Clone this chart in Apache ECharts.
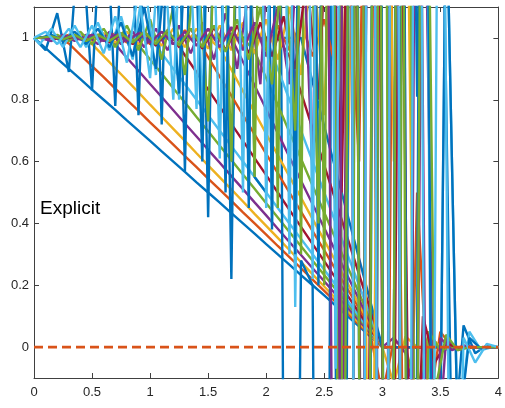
<!DOCTYPE html>
<html>
<head>
<meta charset="utf-8">
<script src="https://cdn.jsdelivr.net/npm/echarts@6/dist/echarts.min.js"></script>
<style>html,body{margin:0;padding:0;background:#fff}#c{width:505px;height:408px}</style>
</head>
<body>
<div id="c"></div>
<script>
// x grids
const xA = [0,0.1,0.2,0.3,0.4,0.5,0.6,0.7,0.8,0.9,1,1.1,1.2,1.3,1.4,1.5,1.6,1.7,1.8,1.9,2,2.1,2.2,2.3,2.4,2.5,2.6,2.7,2.8,2.9,3,3.1,3.2,3.3,3.4,3.5,3.6,3.7,3.8,3.9,4];
const xB = [0,0.05,0.15,0.25,0.35,0.45,0.55,0.65,0.75,0.85,0.95,1.05,1.15,1.25,1.35,1.45,1.55,1.65,1.75,1.85,1.95,2.05,2.15,2.25,2.35,2.45,2.55,2.65,2.75,2.85,2.95,3.05,3.15,3.25,3.35,3.45,3.55,3.65,3.75,3.85,3.95,4];
const xTicks = [0,0.5,1,1.5,2,2.5,3,3.5,4];
const yTicks = [0,0.2,0.4,0.6,0.8,1];
const labelText = "Explicit";

// smooth ramps (grid A)
const r0 = [1,0.967,0.933,0.9,0.867,0.833,0.8,0.767,0.733,0.7, 0.667,0.633,0.6,0.567,0.533,0.5,0.467,0.433,0.4,0.367, 0.333,0.3,0.267,0.233,0.2,0.167,0.133,0.1,0.067,0.033, 0,0,0,0,0,0,0,0,0,0,0];
const r1 = [1,1,1,0.982,0.945,0.909,0.873,0.836,0.8,0.764, 0.727,0.691,0.655,0.618,0.582,0.545,0.509,0.473,0.436,0.4, 0.364,0.327,0.291,0.255,0.218,0.182,0.145,0.109,0.073,0.036, -0.15,0.02,0,0,0,0,0,0,0,0,0];
const r2 = [1,1,1,1,1,0.98,0.941,0.902,0.863,0.824, 0.784,0.745,0.706,0.667,0.627,0.588,0.549,0.51,0.471,0.431, 0.392,0.353,0.314,0.275,0.235,0.196,0.157,0.118,0.078,0.039, 0,-0.12,0.035,0,0,0,0,0,0,0,0];
const r3 = [1,1,1,1,1,1,1,0.979,0.936,0.894, 0.851,0.809,0.766,0.723,0.681,0.638,0.596,0.553,0.511,0.468, 0.426,0.383,0.34,0.298,0.255,0.213,0.17,0.128,0.085,0.043, 0,0.03,-0.02,-0.2,0.045,-0.015,0,0,0,0,0];
const r4 = [1,1,1,1,1,1,1,1,1,0.977, 0.93,0.884,0.837,0.791,0.744,0.698,0.651,0.605,0.558,0.512, 0.465,0.419,0.372,0.326,0.279,0.233,0.186,0.14,0.093,0.047, 0,0,0,-0.15,0.05,-0.01,0,0,0,0,0];
const r5 = [1,1,1,1,1,1,1,1,1,1, 1,0.95,0.9,0.85,0.8,0.75,0.7,0.65,0.6,0.55, 0.5,0.45,0.4,0.35,0.3,0.25,0.2,0.15,0.1,0.05, 0,0,0,0,0,0,0,0,0,0,0];
const r6 = [1,1,1,1,1,1,1,1,1,1, 1,1,1,0.944,0.889,0.833,0.778,0.722,0.667,0.611, 0.556,0.5,0.444,0.389,0.333,0.278,0.222,0.167,0.111,0.056, 0,0,0,0,0,0,0,0,0,0,0];
const r8 = [1,1,1,1,1,1,1,1,1,1, 1,1,1,1,1,0.938,0.875,0.813,0.75,0.688, 0.625,0.563,0.5,0.438,0.375,0.313,0.25,0.188,0.125,0.063, 0,0,0,0,0,0,0,0,0,0,0];
const r9 = [1,1,1,1,1,1,1,1,1,1, 1,1,1,1,1,1,0.966,0.897,0.828,0.759, 0.69,0.621,0.552,0.483,0.414,0.345,0.276,0.207,0.138,0.069, 0,0,0,0,0,0,0,0,0,0,0];
const r10 = [1,1,1,1,1,1,1,1,1,1, 1,1,1,1,1,1,1,1,0.923,0.846, 0.769,0.692,0.615,0.538,0.462,0.385,0.308,0.231,0.154,0.077, 0,0,0,0,0,0,0,0,0,0,0];
const r11 = [1,1,1,1,1,1,1,1,1,1, 1,1,1,1,1,1,1,1,1,0.957, 0.87,0.783,0.696,0.609,0.522,0.435,0.348,0.261,0.174,0.087, 0,0,0,0,0,0,0,0,0,0,0];
const r12 = [1,1,1,1,1,1,1,1,1,1, 1,1,1,1,1,1,1,1,1,1, 1,0.9,0.8,0.7,0.6,0.5,0.4,0.3,0.2,0.1, 0,0,0,0,0,0,0,0,0,0,0];
const r13 = [1,1,1,1,1,1,1,1,1,1, 1,1,1,1,1,1,1,1,1,1, 1,1,0.941,0.824,0.706,0.588,0.471,0.353,0.235,0.118, 0,0,0,0,0,0,0,0,0,0,0];
const r14 = [1,1,1,1,1,1,1,1,1,1, 1,1,1,1,1,1,1,1,1,1, 1,1,1,1,0.857,0.714,0.571,0.429,0.286,0.143, 0,0,0,0,0,0,0,0,0,0,0];

// unstable runs
const u1 = [1,0.96,1.08,0.89,1.4,0.83,1.6,0.78,1.8,0.75, 2,0.72,2.2,0.57,2.4,0.42,2.6,0.22,3,0.55, 0.5,3,-4,0.28,0.2,-5,5.5,-6,6,-6, 5,-4,4,0.81,3,2,-0.4,0.07,-0.02,0.005, 0];
const u2 = [1,0.98,1.03,0.97,1.04,0.97,1.05,0.96,1.07,0.93, 1.2,0.88,1.5,0.8,2,0.72,2.5,0.6,3,0.5, 3.5,0.4,4,0.13,3,0.25,4,-4,5,-5, 5,-4,4,3,3.5,-2,1.5,-0.3,0.05,-0.01, 0,0];
const u3 = [1,1,1.01,0.99,1.02,0.98,1.03,0.97,1.04,0.96, 1.06,0.93,1.1,0.88,1.3,0.73,1.8,0.6,2.5,0.55, 3,0.45,3.5,0.3,4.5,0.2,5,-5,5,-5, 4.5,-4,3.5,-1.5,0.05,-0.01,0,0,0,0, 0];
const u4 = [1,1,0.99,1.01,0.99,1.01,0.98,1.02,0.98,1.02, 0.97,1.03,0.96,1.04,0.95,1.05,0.93,1.08,0.9,1.15, 0.85,1.5,2.5,0.65,3,0.3,3.5,-1,4,0.74, 4,-4,4,-3,2,-0.5,0.03,-0.01,0,0, 0,0];
const u5 = [1,1,1,1.01,0.995,1.01,0.99,1.015,0.985,1.02, 0.98,1.02,0.98,1.025,0.975,1.03,0.97,1.03,0.97,1.035, 0.96,1.04,0.96,1.05,0.94,1.06,0.9,1.3,0.6,3, -3,2,-1,0.5,-0.2,0.05,0,0,0,0, 0];
const u6 = [1,1,1,0.995,1.005,0.99,1.01,0.985,1.015,0.98, 1.02,0.975,1.025,0.97,1.03,0.965,1.035,0.96,1.04,0.95, 1.05,0.94,1.07,0.9,1.2,0.8,1.6,0.5,2.5,-2, 3,-3,2,-1,0.1,-0.05,0.01,0,0,0, 0,0];
const u7 = [1,1,1.005,0.995,1.01,0.99,1.015,0.985,1.02,0.98, 1.02,0.975,1.03,0.97,1.03,0.965,1.04,0.96,1.05,0.95, 1.06,0.93,1.1,0.88,1.3,0.75,1.8,0.5,2.5,-1.5, 3,0.6,2,-1,0.04,0,0,0,0,0, 0];
const u8 = [1,1,1.01,0.99,1.02,0.98,1.03,0.97,1.05,0.94, 1.1,0.9,1.3,0.82,1.8,0.6,2.5,0.5,3,0.45, 4,0.38,4,0.3,5,0.2,5,-5,6,-6, 6,-5,5,-4,4,-2,1.5,-0.3,0.03,-0.005, 0,0];
const u9 = [1,1.02,0.98,1.03,0.97,1.04,0.95,1.07,0.92,1.15, 0.87,1.4,0.8,1.7,0.77,2,0.61,2.5,0.5,3, 0.45,3.5,0.3,4,0.22,4.5,-0.07,5,-5,5, -5,4.5,-4,4,-3,3,-1.5,0.03,-0.05,0.01, 0];
const u10 = [1,1,1,1.005,0.995,1.01,0.99,1.01,0.99,1.015, 0.985,1.02,0.98,1.02,0.975,1.03,0.97,1.035,0.96,1.05, 0.94,1.1,0.85,1.5,0.55,3,-2,4,-4,4.5, -4,4,-4,3,-1.5,0.03,-0.01,0.005,0,0, 0];
const u11 = [1,1,1.005,0.995,1.01,0.99,1.01,0.99,1.015,0.985, 1.02,0.98,1.025,0.975,1.03,0.97,1.04,0.955,1.06,0.93, 1.1,0.85,1.3,0.7,2,0.4,3,-2,4,-4, 4.5,-4,4,-4,3,-0.15,0.04,-0.01,0,0, 0,0];
const zeroX = [0,4];
const zeroY = [0,0];

const C = {blue:'#0072BD', orange:'#D95319', yellow:'#EDB120', purple:'#7E2F8E', green:'#77AC30', lblue:'#4DBEEE', dred:'#A2142F'};

const runs = [
  [xA,r0,'blue'],[xA,r1,'orange'],[xA,r2,'yellow'],[xA,r3,'purple'],[xA,r4,'green'],[xA,r5,'lblue'],[xA,r6,'dred'],
  [xA,u1,'blue'],[xA,r8,'orange'],[xA,r9,'yellow'],[xA,r10,'purple'],[xA,r11,'green'],[xA,r12,'lblue'],[xA,r13,'dred'],
  [xA,r14,'blue'],[xA,u5,'orange'],[xA,u7,'yellow'],[xB,u4,'purple'],[xA,u3,'green'],[xB,u2,'lblue'],[xB,u6,'dred'],
  [xB,u8,'blue'],[xA,u10,'purple'],[xB,u11,'green'],[xA,u9,'lblue']
];

const series = runs.map(([xs, ys, c]) => ({
  type:'line', xAxisIndex:0, yAxisIndex:0,
  data: xs.map((x,i)=>[x, ys[i]]),
  symbol:'none', silent:true, animation:false, clip:true,
  lineStyle:{color:C[c], width:2.4}
}));
series.push({
  type:'line', data: zeroX.map((x,i)=>[x, zeroY[i]]), symbol:'none', silent:true, animation:false,
  lineStyle:{color:C.orange, width:2.6, type:[9,5]}
});

const axisCol = '#404040';
const chart = echarts.init(document.getElementById('c'), null, {renderer:'canvas'});
chart.setOption({
  animation:false,
  backgroundColor:'#fff',
  grid:{left:34, right:2, top:7, bottom:30, containLabel:false},
  xAxis:[
    {type:'value', min:0, max:4, interval:0.5, position:'bottom',
     axisLine:{show:true, onZero:false, lineStyle:{color:axisCol, width:1}},
     axisTick:{show:true, inside:true, length:5, lineStyle:{color:axisCol}},
     axisLabel:{color:'#262626', fontSize:13, fontFamily:'Liberation Sans, Arial, sans-serif', margin:8,
       formatter: v => xTicks.includes(v) ? String(v) : ''},
     splitLine:{show:false}},
    {type:'value', min:0, max:4, interval:0.5, position:'top',
     axisLine:{show:true, onZero:false, lineStyle:{color:axisCol, width:1}},
     axisTick:{show:true, inside:true, length:5, lineStyle:{color:axisCol}},
     axisLabel:{show:false}, splitLine:{show:false}}
  ],
  yAxis:[
    {type:'value', min:-0.1, max:1.1, position:'left',
     axisLine:{show:true, onZero:false, lineStyle:{color:axisCol, width:1}},
     axisTick:{show:true, inside:true, length:5, customValues:yTicks, lineStyle:{color:axisCol}},
     axisLabel:{color:'#262626', fontSize:13, fontFamily:'Liberation Sans, Arial, sans-serif', margin:5, customValues:yTicks},
     splitLine:{show:false}},
    {type:'value', min:-0.1, max:1.1, position:'right',
     axisLine:{show:true, onZero:false, lineStyle:{color:axisCol, width:1}},
     axisTick:{show:true, inside:true, length:5, customValues:yTicks, lineStyle:{color:axisCol}},
     axisLabel:{show:false}, splitLine:{show:false}}
  ],
  graphic:[{type:'text', left:40, top:199, silent:true,
    style:{text:labelText, fontSize:19, fontFamily:'Liberation Sans, Arial, sans-serif', fill:'#000'}}],
  series: series
});
</script>
</body>
</html>
